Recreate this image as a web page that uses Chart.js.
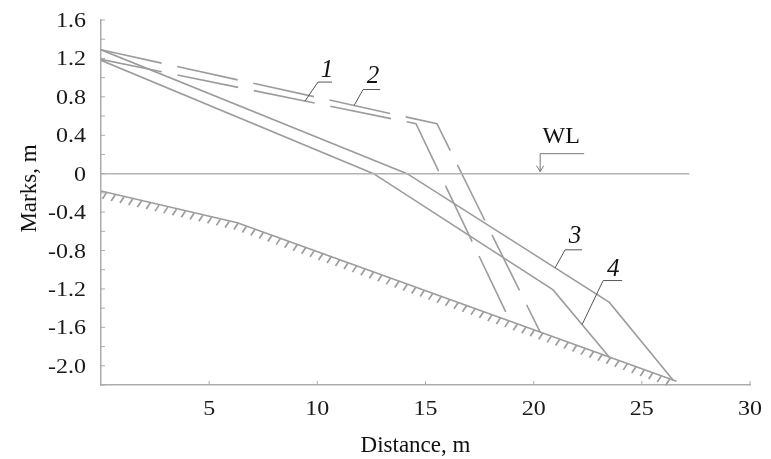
<!DOCTYPE html>
<html lang="en">
<head>
<meta charset="UTF-8">
<title>Marks vs distance</title>
<script src="https://cdn.jsdelivr.net/npm/chart.js"></script>
<style>
  body { margin: 0; background: #fff; }
  #wrap { width: 771px; height: 459px; }
</style>
</head>
<body>
<div id="wrap"><canvas id="chart" width="771" height="459"></canvas></div>
<script>
// profiles: distance (m) and mark (m)
const groundX = [0, 6.3, 26.6];
const groundY = [-0.18, -0.51, -2.16];
const line1X = [0, 14.56, 18.9];
const line1Y = [1.19, 0.52, -1.53];
const line2X = [0, 15.53, 20.3];
const line2Y = [1.29, 0.52, -1.65];
const line3X = [0, 14.15, 23.5, 26.45];
const line3Y = [1.29, 0, -1.34, -2.15];
const line4X = [0, 12.6, 20.9, 23.5];
const line4Y = [1.18, 0, -1.21, -1.91];
const wlX = [0, 27.2];
const wlY = [0, 0];

const xTickLabels = [5, 10, 15, 20, 25, 30];
const yTickLabels = [1.6, 1.2, 0.8, 0.4, 0, -0.4, -0.8, -1.2, -1.6, -2.0];

// curve labels: which curve, and the distance where the leader touches it
const curveLabels = [
  { text: '1', xs: line1X, ys: line1Y, at: 9.43, dx: 13, dy: -19, bar: 14, tx: 9, ty: -5 },
  { text: '2', xs: line2X, ys: line2Y, at: 11.7, dx: 9, dy: -16, bar: 17, tx: 10, ty: -6 },
  { text: '3', xs: line3X, ys: line3Y, at: 20.99, dx: 10, dy: -18, bar: 17, tx: 10, ty: -7 },
  { text: '4', xs: line4X, ys: line4Y, at: 22.24, dx: 21, dy: -44, bar: 19, tx: 10, ty: -5 }
];
const wlAt = 20.3;

const GREY = '#9c9c9c';
const SERIF = '"Liberation Serif", "Times New Roman", serif';

function pairs(xs, ys) {
  return xs.map((v, i) => ({ x: v, y: ys[i] }));
}

function yAt(xs, ys, v) {
  for (let i = 0; i < xs.length - 1; i++) {
    if (v >= xs[i] && v <= xs[i + 1]) {
      const t = (v - xs[i]) / (xs[i + 1] - xs[i]);
      return ys[i] + (ys[i + 1] - ys[i]) * t;
    }
  }
  return ys[ys.length - 1];
}

function seg(ctx, x0, y0, x1, y1) {
  ctx.beginPath();
  ctx.moveTo(x0, y0);
  ctx.lineTo(x1, y1);
  ctx.stroke();
}

// tick labels in the source are a bit wider than the font, so stretch them
function wideText(ctx, text, px, py, align) {
  ctx.save();
  ctx.translate(px, py);
  ctx.scale(1.2, 1);
  ctx.textAlign = align;
  ctx.fillText(text, 0, 0);
  ctx.restore();
}

// ticks inside the axes, tick labels, hatching, leaders and titles
const decor = {
  id: 'decor',
  afterDatasetsDraw(chart) {
    const { ctx, scales: { x, y } } = chart;
    ctx.save();

    ctx.strokeStyle = '#ababab';
    ctx.lineWidth = 1;
    y.ticks.forEach(t => {
      const py = y.getPixelForValue(t.value);
      seg(ctx, x.left, py, x.left + 4, py);
    });
    x.ticks.forEach(t => {
      if (t.value === 0) return;
      const px = x.getPixelForValue(t.value);
      seg(ctx, px, y.bottom, px, y.bottom - 4);
    });

    ctx.fillStyle = '#1a1a1a';
    ctx.font = '20px ' + SERIF;
    ctx.textBaseline = 'alphabetic';
    yTickLabels.forEach(v => {
      wideText(ctx, v === 0 ? '0' : v.toFixed(1), x.left - 15, y.getPixelForValue(v) + 7, 'right');
    });
    xTickLabels.forEach(v => {
      wideText(ctx, String(v), x.getPixelForValue(v), y.bottom + 30, 'center');
    });

    // hatching under the bottom profile
    ctx.strokeStyle = GREY;
    ctx.lineWidth = 1.7;
    const pts = groundX.map((gx, i) => [x.getPixelForValue(gx), y.getPixelForValue(groundY[i])]);
    let carry = 4;
    for (let i = 0; i < pts.length - 1; i++) {
      const [x0, y0] = pts[i];
      const [x1, y1] = pts[i + 1];
      const len = Math.hypot(x1 - x0, y1 - y0);
      let d = carry;
      while (d < len) {
        const px = x0 + (x1 - x0) * d / len;
        const py = y0 + (y1 - y0) * d / len;
        seg(ctx, px + 1.5, py + 1, px - 2.5, py + 7);
        d += 9;
      }
      carry = d - len;
    }

    // numbered leaders
    ctx.strokeStyle = '#555';
    ctx.lineWidth = 1;
    ctx.fillStyle = '#111';
    ctx.font = 'italic 25px ' + SERIF;
    ctx.textAlign = 'center';
    curveLabels.forEach(l => {
      const px = x.getPixelForValue(l.at);
      const py = y.getPixelForValue(yAt(l.xs, l.ys, l.at));
      ctx.beginPath();
      ctx.moveTo(px, py);
      ctx.lineTo(px + l.dx, py + l.dy);
      ctx.lineTo(px + l.dx + l.bar, py + l.dy);
      ctx.stroke();
      ctx.fillText(l.text, px + l.dx + l.tx, py + l.dy + l.ty);
    });

    // water level mark
    const wx = x.getPixelForValue(wlAt);
    const wy = y.getPixelForValue(0);
    ctx.strokeStyle = '#777';
    ctx.beginPath();
    ctx.moveTo(wx + 44, wy - 20);
    ctx.lineTo(wx, wy - 20);
    ctx.lineTo(wx, wy - 2);
    ctx.stroke();
    ctx.beginPath();
    ctx.moveTo(wx - 3.5, wy - 8);
    ctx.lineTo(wx, wy - 2);
    ctx.lineTo(wx + 3.5, wy - 8);
    ctx.stroke();
    ctx.font = '24px ' + SERIF;
    ctx.fillText('WL', wx + 21, wy - 31);

    // axis titles
    ctx.font = '23px ' + SERIF;
    ctx.fillText('Distance, m', (x.left + x.right) / 2 - 10, y.bottom + 67);
    ctx.translate(36, (y.top + y.bottom) / 2 - 14);
    ctx.rotate(-Math.PI / 2);
    ctx.fillText('Marks, m', 0, 0);

    ctx.restore();
  }
};

function lineSet(xs, ys, dashed) {
  return {
    data: pairs(xs, ys),
    showLine: true,
    borderColor: GREY,
    borderWidth: 1.6,
    borderDash: dashed ? [62, 16] : [],
    pointRadius: 0,
    fill: false
  };
}

const ctx = document.getElementById('chart').getContext('2d');
new Chart(ctx, {
  type: 'scatter',
  data: {
    datasets: [
      { ...lineSet(wlX, wlY, false), borderColor: '#b4b4b4', borderWidth: 1.5 },
      lineSet(groundX, groundY, false),
      lineSet(line1X, line1Y, true),
      lineSet(line2X, line2Y, true),
      lineSet(line3X, line3Y, false),
      lineSet(line4X, line4Y, false)
    ]
  },
  options: {
    responsive: false,
    animation: false,
    layout: { padding: { top: 20, right: 21, left: 0, bottom: 0 } },
    plugins: { legend: { display: false }, tooltip: { enabled: false } },
    scales: {
      x: {
        type: 'linear',
        min: 0,
        max: 30,
        afterFit: s => { s.height = 74; },
        afterBuildTicks: s => { s.ticks = [0].concat(xTickLabels).map(v => ({ value: v })); },
        grid: { display: true, drawOnChartArea: false, drawTicks: false },
        border: { display: true, color: '#ababab', width: 1.5 },
        ticks: { display: false }
      },
      y: {
        type: 'linear',
        min: -2.2,
        max: 1.6,
        afterFit: s => { s.width = 101; },
        ticks: { display: false, stepSize: 0.2, autoSkip: false },
        grid: { display: true, drawOnChartArea: false, drawTicks: false },
        border: { display: true, color: '#ababab', width: 1.5 }
      }
    }
  },
  plugins: [decor]
});
</script>
</body>
</html>
